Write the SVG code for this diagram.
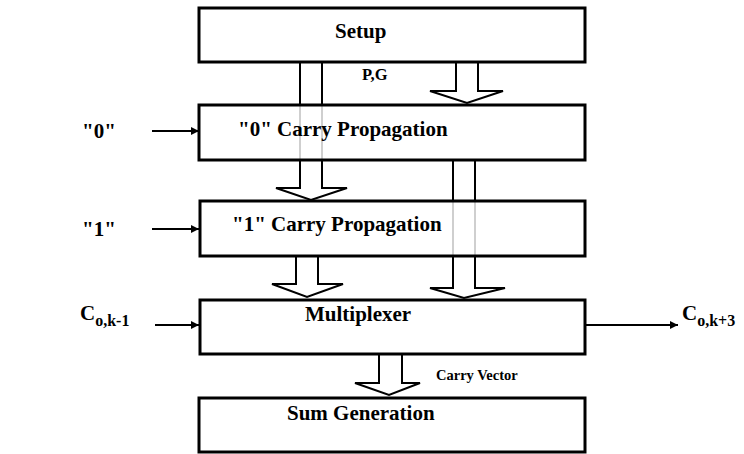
<svg xmlns="http://www.w3.org/2000/svg" width="744" height="454" viewBox="0 0 744 454">
<style>
.box{fill:none;stroke:#000;stroke-width:3}
.t{font-family:"Liberation Serif","Times New Roman",serif;font-weight:bold;fill:#000}
.big{font-size:21px}
.sm{font-size:14.5px}
.sh{fill:none;stroke:#000;stroke-width:2}
.gr{fill:none;stroke:#b0b0b0;stroke-width:1.2}
.ln{fill:none;stroke:#000;stroke-width:2}
</style>
<defs>
<marker id="ah" viewBox="0 0 10 10" refX="10" refY="5" markerWidth="10" markerHeight="8" markerUnits="userSpaceOnUse" orient="auto">
<path d="M0,0 L10,5 L0,10 z" fill="#000"/>
</marker>
</defs>
<rect width="744" height="454" fill="#fff"/>
<g id="connectors">
<path class="sh" d="M300,62 V105 M322,62 V105"/>
<path class="gr" d="M300,105 V160 M322,105 V160"/>
<path class="sh" d="M300,160 V188 H276 L311,200 L347,188 H322 V160"/>
<path class="sh" d="M456,62 V91 H430 L467,103 L503,91 H478 V62"/>
<path class="sh" d="M453,160 V201 M475,160 V201"/>
<path class="gr" d="M453,201 V256 M475,201 V256"/>
<path class="sh" d="M453,256 V288 H430 L464,298 L505,288 H475 V256"/>
<path class="sh" d="M296,256 V284 H272 L307,297 L343,284 H318 V256"/>
<path class="sh" d="M379,354 V383 H355 L389,395 L420,383 H402 V354"/>
<path class="ln" d="M152,131 H199" marker-end="url(#ah)"/>
<path class="ln" d="M152,229 H199" marker-end="url(#ah)"/>
<path class="ln" d="M155,325 H199" marker-end="url(#ah)"/>
<path class="ln" d="M585,325 H678" marker-end="url(#ah)"/>
</g>
<g id="setup">
<rect class="box" x="199" y="8" width="386" height="54"/>
<text class="t big" x="335" y="38">Setup</text>
</g>
<text class="t" x="362" y="80" font-size="16.5">P,G</text>
<g id="carry0">
<rect class="box" x="199" y="105" width="386" height="55"/>
<text class="t big" x="238" y="136">"0" Carry Propagation</text>
</g>
<g id="carry1">
<rect class="box" x="200" y="201" width="385" height="55"/>
<text class="t big" x="232" y="231">"1" Carry Propagation</text>
</g>
<g id="mux">
<rect class="box" x="200" y="300" width="385" height="54"/>
<text class="t big" x="305" y="321">Multiplexer</text>
</g>
<text class="t sm" x="436" y="380">Carry Vector</text>
<g id="sum">
<rect class="box" x="199" y="398" width="386" height="54"/>
<text class="t big" x="287" y="420">Sum Generation</text>
</g>
<g id="labels">
<text class="t big" x="82" y="138">"0"</text>
<text class="t big" x="82" y="236">"1"</text>
<text class="t" x="80" y="320" font-size="21">C<tspan font-size="16" dy="6">o,k-1</tspan></text>
<text class="t" x="682" y="320" font-size="21">C<tspan font-size="16" dy="6">o,k+3</tspan></text>
</g>
</svg>
